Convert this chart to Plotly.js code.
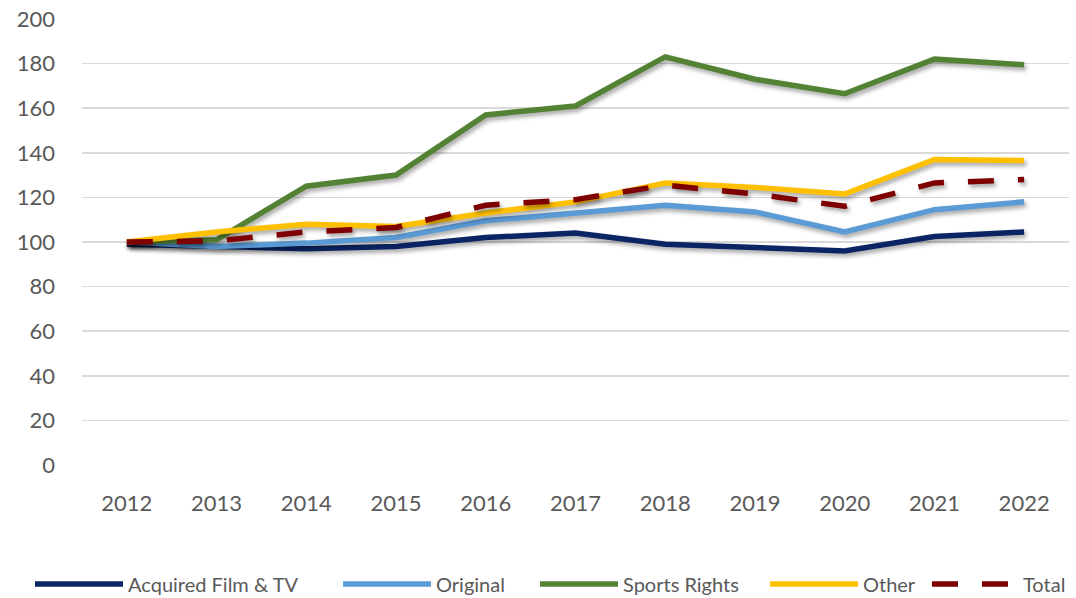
<!DOCTYPE html>
<html>
<head>
<meta charset="utf-8">
<script src="https://cdn.plot.ly/plotly-3.0.1.min.js"></script>
<style>
body{margin:0;background:#fff;}
#chart{width:1076px;height:598px;}
.scatterlayer .trace path.js-line{filter:drop-shadow(2px 3px 2px rgba(0,0,0,0.35));}
</style>
</head>
<body>
<div id="chart"></div>
<script>
const years = ['2012','2013','2014','2015','2016','2017','2018','2019','2020','2021','2022'];
const acquired = [99, 98, 97, 98, 102, 104, 99, 97.5, 96, 102.5, 104.5];
const original = [100, 98, 99.5, 102, 109.5, 113, 116.5, 113.5, 104.5, 114.5, 118];
const sportsRights = [100, 101, 125, 130, 157, 161, 183, 173, 166.5, 182, 179.5];
const other = [100, 104.5, 108, 107, 113, 118, 126.5, 124.5, 121.5, 137, 136.5];
const total = [100, 100.5, 104.5, 106.5, 116.5, 119, 125.5, 121.5, 116, 126.5, 128];

const seriesNames = ['Acquired Film & TV','Original','Sports Rights','Other','Total'];
const seriesData = [acquired, original, sportsRights, other, total];
const colors = ['#0b2463','#5b9bd5','#548235','#ffc000','#7f0000'];
const legendIds = ['legend','legend2','legend3','legend4','legend5'];
const legendStarts = [35, 343, 540, 770, 932];
const legendWidths = [88, 88, 78, 88, 86];

const traces = seriesData.map((d,i)=>({
  x: years, y: d, name: seriesNames[i], type:'scatter', mode:'lines',
  legend: legendIds[i],
  line:{color:colors[i], width:5.5, dash: i===4 ? '26px,24px' : 'solid'}
}));

const font = {family:'Lato, "Open Sans", sans-serif', size:22, color:'#595959'};
const lfont = {family:'Lato, "Open Sans", sans-serif', size:20, color:'#595959'};

const layout = {
  width:1076, height:598,
  margin:{l:82, r:7, t:19, b:133},
  paper_bgcolor:'#fff', plot_bgcolor:'#fff',
  font: font,
  showlegend:true,
  xaxis:{type:'category', range:[-0.5,10.5], showgrid:false, zeroline:false, showline:false, ticks:'', tickfont:font, ticklabelstandoff:23},
  yaxis:{range:[0,200], dtick:20, showgrid:true, gridcolor:'#d9d9d9', gridwidth:1.5, zeroline:false, showline:false, ticks:'', tickfont:font, ticklabelstandoff:26}
};
legendIds.forEach((id,i)=>{
  layout[id] = {xref:'container', yref:'container', x:(legendStarts[i]-5)/1076, xanchor:'left', y:1-584/598, yanchor:'middle',
    orientation:'h', font:lfont, itemwidth:legendWidths[i], bgcolor:'rgba(0,0,0,0)', borderwidth:0};
});

Plotly.newPlot('chart', traces, layout, {displayModeBar:false, staticPlot:true});
</script>
</body>
</html>
